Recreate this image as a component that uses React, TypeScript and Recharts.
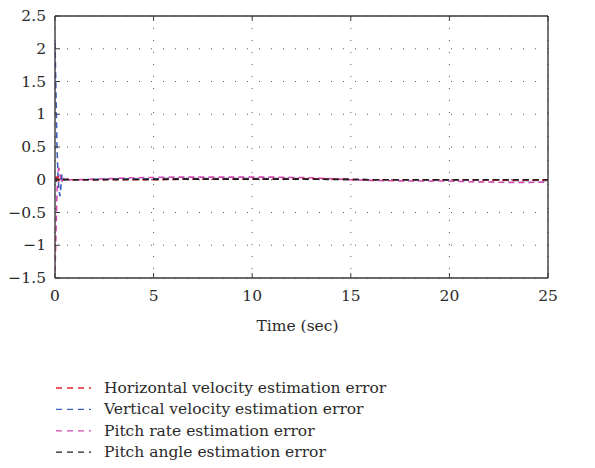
import React from "react";
import { LineChart, Line, XAxis, YAxis, CartesianGrid } from "recharts";

const time = [0, 0.05, 0.1, 0.15, 0.2, 0.25, 0.3, 0.35, 0.4, 0.5, 0.6, 0.8, 1, 1.5, 2, 3, 4, 5, 6, 7, 8, 9, 10, 11, 12, 13, 14, 15, 16, 17, 18, 19, 20, 21, 22, 23, 24, 25];
const horizontalErr = [0, 0.05, -0.02, 0.03, -0.01, 0.02, 0.0, 0.01, 0.0, 0.0, 0.01, 0.0, 0.0, 0.0, 0.0, 0.0, 0.0, 0.0, 0.005, 0.01, 0.01, 0.01, 0.01, 0.01, 0.01, 0.015, 0.01, 0.005, 0.0, 0.0, 0.0, 0.0, 0.0, 0.0, -0.005, -0.005, -0.005, -0.005];
const verticalErr = [2.1, 1.3, 0.5, 0.1, -0.15, -0.25, -0.1, 0.08, 0.03, 0.0, 0.01, 0.0, 0.0, 0.0, 0.005, 0.01, 0.01, 0.015, 0.02, 0.02, 0.02, 0.02, 0.02, 0.02, 0.02, 0.015, 0.01, 0.005, 0.0, 0.0, -0.005, -0.005, -0.005, -0.005, -0.005, -0.01, -0.01, -0.01];
const pitchRateErr = [-1.4, -0.8, -0.2, 0.1, 0.18, 0.1, -0.05, -0.03, 0.02, 0.0, -0.01, 0.0, 0.0, 0.005, 0.01, 0.02, 0.03, 0.035, 0.04, 0.04, 0.04, 0.04, 0.04, 0.04, 0.035, 0.03, 0.015, 0.0, -0.01, -0.015, -0.02, -0.02, -0.02, -0.03, -0.035, -0.04, -0.04, -0.035];
const pitchAngleErr = [0, -0.02, 0.01, 0.0, 0.0, 0.0, 0.0, 0.0, 0.0, 0.0, 0.0, 0.0, 0.0, 0.0, 0.0, 0.005, 0.005, 0.005, 0.01, 0.01, 0.01, 0.01, 0.01, 0.01, 0.01, 0.01, 0.005, 0.005, 0.0, 0.0, 0.0, 0.0, 0.0, 0.0, 0.0, 0.0, 0.0, 0.0];

const xTicks = [0, 5, 10, 15, 20, 25];
const yTicks = [-1.5, -1, -0.5, 0, 0.5, 1, 1.5, 2, 2.5];

const seriesNames = [
  "Horizontal velocity estimation error",
  "Vertical velocity estimation error",
  "Pitch rate estimation error",
  "Pitch angle estimation error",
];
const seriesKeys = ["h", "v", "q", "theta"];
const seriesColors = ["#e4262e", "#3f5fbf", "#d24aae", "#1e1e1e"];
const drawOrder = [2, 1, 0, 3];

const data = time.map((t, i) => ({
  t,
  h: horizontalErr[i],
  v: verticalErr[i],
  q: pitchRateErr[i],
  theta: pitchAngleErr[i],
}));

const FONT = "'DejaVu Serif', 'Liberation Serif', serif";
const FS = 15.5;
const TXT = "#2a2a2a";
const AX = "#3a3a3a";
const fmt = (v: number) => String(v).replace("-", "\u2212");

const W = 595;
const H = 468;

const LeftTick = (p: any) => (
  <g>
    <line x1={p.x} x2={p.x + 5} y1={p.y} y2={p.y} stroke={AX} strokeWidth={1} />
    <text x={p.x - 9} y={p.y} dy={5} textAnchor="end" fontFamily={FONT} fontSize={FS} fill={TXT}>
      {fmt(p.payload.value)}
    </text>
  </g>
);
const RightTick = (p: any) => (
  <line x1={p.x} x2={p.x - 5} y1={p.y} y2={p.y} stroke={AX} strokeWidth={1} />
);
const BottomTick = (p: any) => (
  <g>
    <line x1={p.x} x2={p.x} y1={p.y} y2={p.y - 5} stroke={AX} strokeWidth={1} />
    <text x={p.x} y={p.y} dy={23} textAnchor="middle" fontFamily={FONT} fontSize={FS} fill={TXT}>
      {fmt(p.payload.value)}
    </text>
  </g>
);
const TopTick = (p: any) => (
  <line x1={p.x} x2={p.x} y1={p.y} y2={p.y + 5} stroke={AX} strokeWidth={1} />
);

export default function App() {
  return (
    <div style={{ position: "relative", width: W, height: H, margin: -8, background: "#fff" }}>
      <LineChart width={W} height={H} data={data} margin={{ top: 0, left: 0, right: 0, bottom: 0 }}>
        <CartesianGrid xAxisId="b" yAxisId="l" stroke="#555" strokeDasharray="1 11" />
        <XAxis
          xAxisId="b"
          dataKey="t"
          type="number"
          domain={[0, 25]}
          ticks={xTicks}
          height={190}
          tickSize={0}
          tickMargin={0}
          tickLine={false}
          axisLine={{ stroke: AX, strokeWidth: 1.4 }}
          tick={<BottomTick />}
          interval={0}
          allowDataOverflow
        />
        <XAxis
          xAxisId="top"
          orientation="top"
          dataKey="t"
          type="number"
          domain={[0, 25]}
          ticks={xTicks}
          height={16}
          tickSize={0}
          tickMargin={0}
          tickLine={false}
          axisLine={{ stroke: AX, strokeWidth: 1.4 }}
          tick={<TopTick />}
          interval={0}
        />
        <YAxis
          yAxisId="l"
          type="number"
          domain={[-1.5, 2.5]}
          ticks={yTicks}
          width={55}
          tickSize={0}
          tickMargin={0}
          tickLine={false}
          axisLine={{ stroke: AX, strokeWidth: 1.4 }}
          tick={<LeftTick />}
          interval={0}
          allowDataOverflow
        />
        <YAxis
          yAxisId="r"
          orientation="right"
          type="number"
          domain={[-1.5, 2.5]}
          ticks={yTicks}
          width={47}
          tickSize={0}
          tickMargin={0}
          tickLine={false}
          axisLine={{ stroke: AX, strokeWidth: 1.4 }}
          tick={<RightTick />}
          interval={0}
        />
        {drawOrder.map((i) => (
          <Line
            key={seriesKeys[i]}
            xAxisId="b"
            yAxisId="l"
            type="linear"
            dataKey={seriesKeys[i]}
            name={seriesNames[i]}
            stroke={seriesColors[i]}
            strokeWidth={1.6}
            strokeDasharray="6 4"
            dot={false}
            activeDot={false}
            isAnimationActive={false}
          />
        ))}
      </LineChart>
      <div
        style={{
          position: "absolute",
          left: 0,
          top: 316,
          width: W,
          textAlign: "center",
          fontFamily: FONT,
          fontSize: FS,
          color: TXT,
          lineHeight: "20px",
        }}
      >
        Time (sec)
      </div>
      <svg style={{ position: "absolute", left: 0, top: 376 }} width={W} height={92}>
        {seriesNames.map((name, i) => {
          const y = 12 + i * 21.4;
          return (
            <g key={name}>
              <line x1={56} x2={91} y1={y} y2={y} stroke={seriesColors[i]} strokeWidth={1.3} strokeDasharray="6 5" />
              <text x={104} y={y} dy={5} fontFamily={FONT} fontSize={FS} fill={TXT}>
                {name}
              </text>
            </g>
          );
        })}
      </svg>
    </div>
  );
}
